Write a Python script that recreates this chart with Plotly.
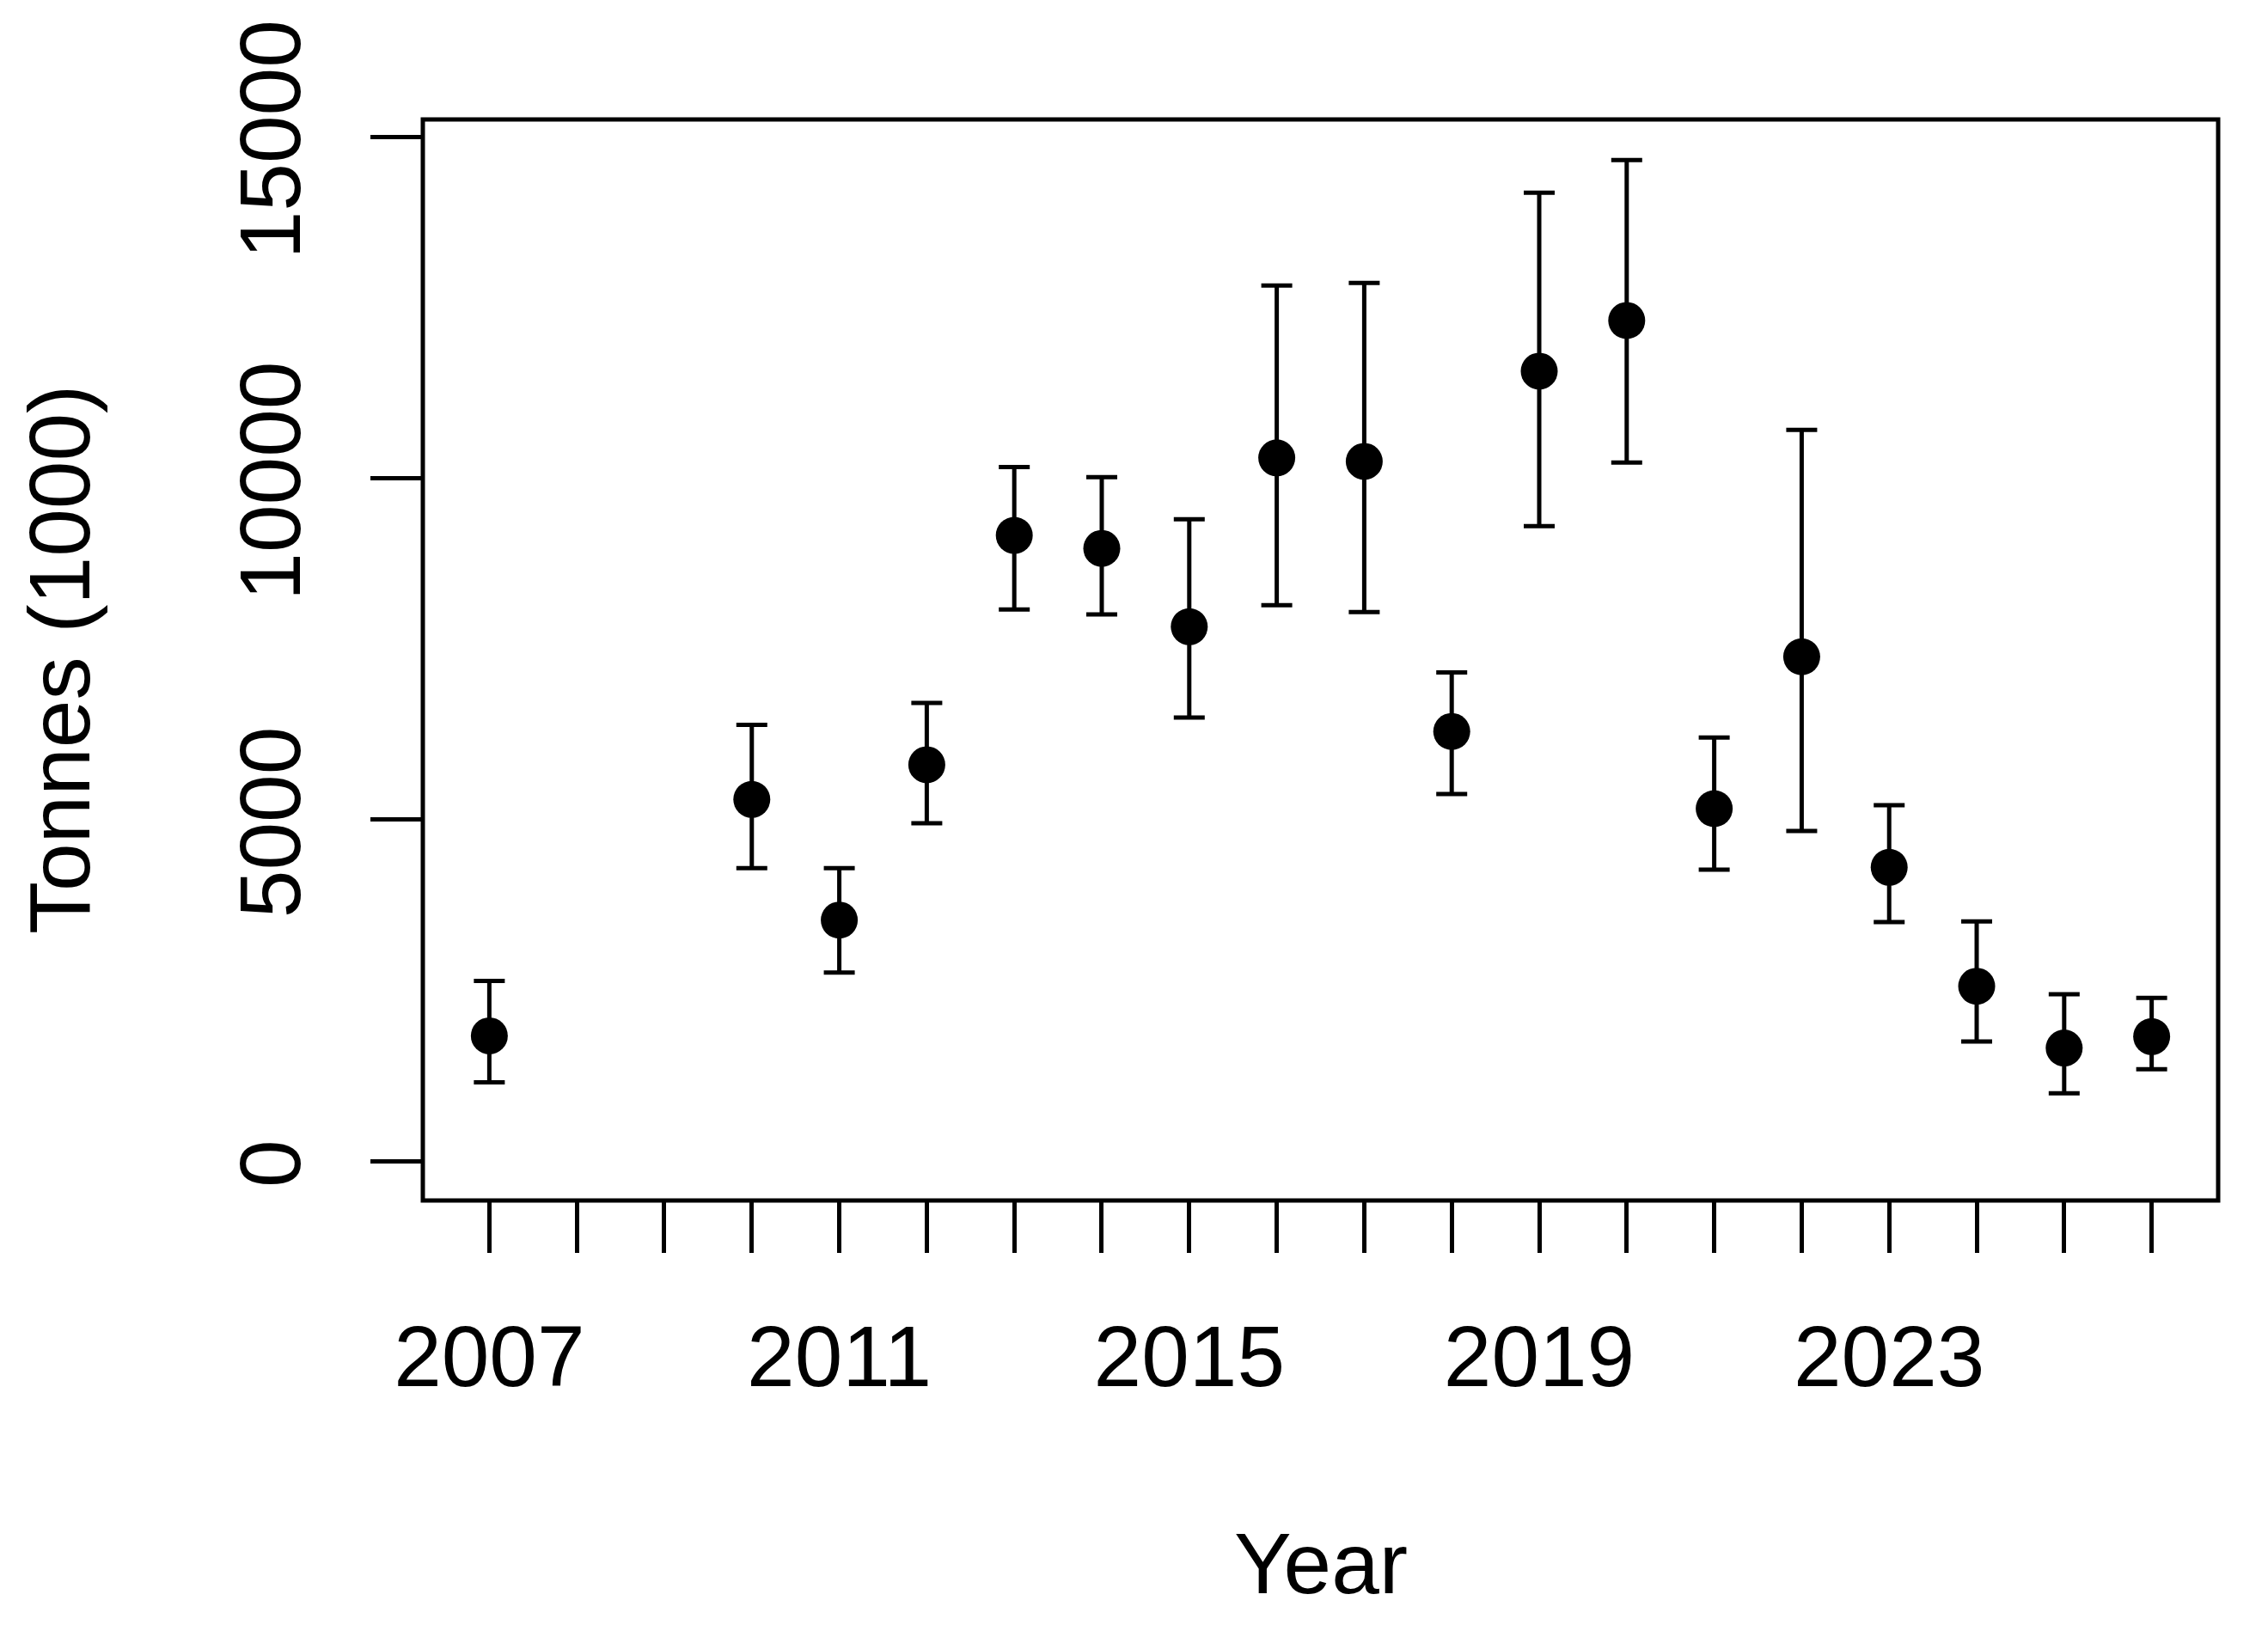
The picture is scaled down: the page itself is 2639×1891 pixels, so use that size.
import plotly.graph_objects as go

years = [2007, 2010, 2011, 2012, 2013, 2014, 2015, 2016, 2017, 2018,
         2019, 2020, 2021, 2022, 2023, 2024, 2025, 2026]
estimate = [1836, 5298, 3531, 5806, 9164, 8974, 7827, 10299, 10248, 6293,
            11569, 12311, 5163, 7387, 4304, 2563, 1657, 1825]
upper = [2640, 6389, 4291, 6711, 10164, 10018, 9400, 12822, 12861, 7159,
         14182, 14660, 6204, 10709, 5214, 3511, 2445, 2391]
lower = [1156, 4291, 2763, 4949, 8080, 8007, 6496, 8142, 8041, 5377,
         9300, 10231, 4270, 4836, 3502, 1753, 994, 1347]

x_tick_years = list(range(2007, 2027))
x_tick_labels = [str(y) if (y - 2007) % 4 == 0 else "" for y in x_tick_years]
y_tick_vals = [0, 5000, 10000, 15000]
y_tick_labels = ["0", "5000", "10000", "15000"]

x_title = "Year"
y_title = "Tonnes (1000)"

FONT = "Liberation Sans, Arial, Helvetica, sans-serif"

err_plus = [u - e for u, e in zip(upper, estimate)]
err_minus = [e - l for e, l in zip(estimate, lower)]

fig = go.Figure()
fig.add_trace(go.Scatter(
    x=years, y=estimate, mode="markers",
    marker=dict(size=43, color="black", line=dict(width=0)),
    error_y=dict(type="data", symmetric=False, array=err_plus,
                 arrayminus=err_minus, color="black", thickness=5, width=18),
    showlegend=False,
))

fig.update_layout(
    width=2623, height=1875,
    margin=dict(l=484, r=50, t=131, b=486, pad=0, autoexpand=False),
    paper_bgcolor="white", plot_bgcolor="white",
    font=dict(family=FONT, size=100, color="black"),
    xaxis=dict(
        range=[2006.24, 2026.76], showgrid=False, zeroline=False,
        showline=False, ticks="outside", ticklen=60, tickwidth=5,
        tickcolor="black", tickvals=x_tick_years, ticktext=x_tick_labels,
        tickfont=dict(family=FONT, size=100, color="black"),
        ticklabelstandoff=35, ticklabeloverflow="allow", automargin=False,
    ),
    yaxis=dict(
        range=[-575, 15255], showgrid=False, zeroline=False,
        showline=False, ticks="outside", ticklen=60, tickwidth=5,
        tickcolor="black", tickvals=y_tick_vals, ticktext=y_tick_labels,
        tickangle=-90,
        tickfont=dict(family=FONT, size=100, color="black"),
        ticklabelstandoff=42, ticklabelshift=18,
        ticklabeloverflow="allow", automargin=False,
    ),
    shapes=[dict(type="rect", xref="paper", yref="paper", x0=0, x1=1,
                 y0=0, y1=1, line=dict(color="black", width=5),
                 fillcolor="rgba(0,0,0,0)", layer="above")],
    annotations=[
        dict(text=x_title, xref="paper", yref="paper", x=0.5, y=0,
             xanchor="center", yanchor="middle", yshift=-422,
             showarrow=False, font=dict(family=FONT, size=100, color="black")),
        dict(text=y_title, xref="paper", yref="paper", x=0, y=0.5,
             xanchor="center", yanchor="middle", xshift=-423, textangle=-90,
             showarrow=False, font=dict(family=FONT, size=100, color="black")),
    ],
)

fig.write_html("out.html")
